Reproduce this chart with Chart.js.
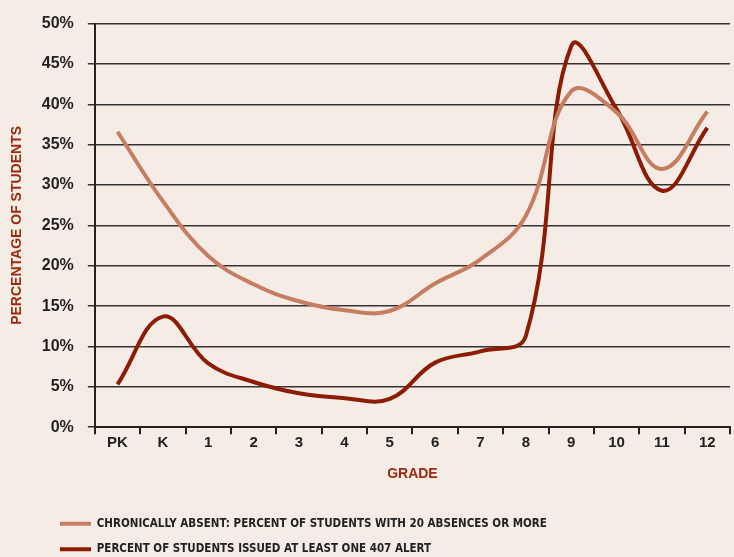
<!DOCTYPE html>
<html>
<head>
<meta charset="utf-8">
<script src="https://cdn.jsdelivr.net/npm/chart.js@4"></script>
<style>
    html, body {
        margin: 0;
        padding: 0;
        background: #f5ece6;
    }
    .wrap {
        width: 734px;
        height: 557px;
    }
</style>
</head>
<body>
<div class="wrap"><canvas id="myChart"></canvas></div>
<script>
// grades on the x axis
const grades = ["PK", "K", "1", "2", "3", "4", "5", "6", "7", "8", "9", "10", "11", "12"];

// chronically absent, percent of students
const absentPct = [36.6, 28, 21.2, 17.7, 15.6, 14.5, 14.4, 17.8, 20.8, 26.2, 41.6, 39.0, 32.0, 39.1];

// percent of students issued at least one 407 alert
const alertPct = [5.3, 13.7, 7.9, 5.6, 4.2, 3.6, 3.5, 8.0, 9.4, 11.3, 47.2, 39.4, 29.3, 37.1];

// y tick values
const yTicks = [0, 5, 10, 15, 20, 25, 30, 35, 40, 45, 50];

const lightColor = "#c67e62";
const darkColor = "#8c1c04";
const titleColor = "#9b2a10";

// legend sits further right than chart.js puts it
const legendShift = {
    id: "legendShift",
    afterLayout(chart) {
        chart.legend.left += 41;
        chart.legend.right += 41;
    },
};

const ctx = document.getElementById("myChart").getContext("2d");

new Chart(ctx, {
    type: "line",
    data: {
        labels: grades,
        datasets: [
            {
                label: "CHRONICALLY ABSENT: PERCENT OF STUDENTS WITH 20 ABSENCES OR MORE",
                data: absentPct,
                borderColor: lightColor,
                backgroundColor: lightColor,
                borderWidth: 4,
                tension: 0.4,
                pointRadius: 0,
            },
            {
                label: "PERCENT OF STUDENTS ISSUED AT LEAST ONE 407 ALERT",
                data: alertPct,
                borderColor: darkColor,
                backgroundColor: darkColor,
                borderWidth: 4,
                tension: 0.4,
                pointRadius: 0,
            },
        ],
    },
    options: {
        responsive: true,
        maintainAspectRatio: false,
        animation: false,
        layout: {
            padding: { top: 12, left: 5, right: 4, bottom: -8 },
        },
        scales: {
            x: {
                offset: true,
                grid: {
                    offset: true,
                    // only the right edge of the plot gets a line
                    color: (c) => (c.index === grades.length ? "#222" : "rgba(0,0,0,0)"),
                    tickColor: "#222",
                    tickLength: 7,
                    lineWidth: 2,
                },
                border: { color: "#222", width: 2 },
                ticks: {
                    color: "#222",
                    padding: 0,
                    font: { family: "Liberation Sans", size: 15, weight: "bold" },
                },
                title: {
                    display: true,
                    text: "GRADE",
                    color: titleColor,
                    padding: { top: 14, bottom: 21 },
                    font: { family: "Liberation Sans", size: 14, weight: "bold" },
                },
            },
            y: {
                min: 0,
                max: 50,
                afterBuildTicks: (axis) => {
                    axis.ticks = yTicks.map((v) => ({ value: v }));
                },
                grid: {
                    color: "#333",
                    lineWidth: 1.5,
                    tickLength: 7,
                },
                border: { color: "#222", width: 2 },
                ticks: {
                    color: "#222",
                    padding: 14,
                    callback: (v) => v + "%",
                    font: { family: "Liberation Sans", size: 16, weight: "bold" },
                },
                title: {
                    display: true,
                    text: "PERCENTAGE OF STUDENTS",
                    color: titleColor,
                    padding: { top: 4, bottom: 2 },
                    font: { family: "Liberation Sans", size: 14, weight: "bold" },
                },
            },
        },
        plugins: {
            legend: {
                position: "bottom",
                align: "start",
                labels: {
                    boxWidth: 31,
                    boxHeight: 0,
                    padding: 14,
                    color: "#222",
                    font: { family: "'DejaVu Sans Condensed', 'Liberation Sans'", size: 11.5, weight: "bold" },
                },
            },
            tooltip: { enabled: false },
        },
    },
    plugins: [legendShift],
});
</script>
</body>
</html>
